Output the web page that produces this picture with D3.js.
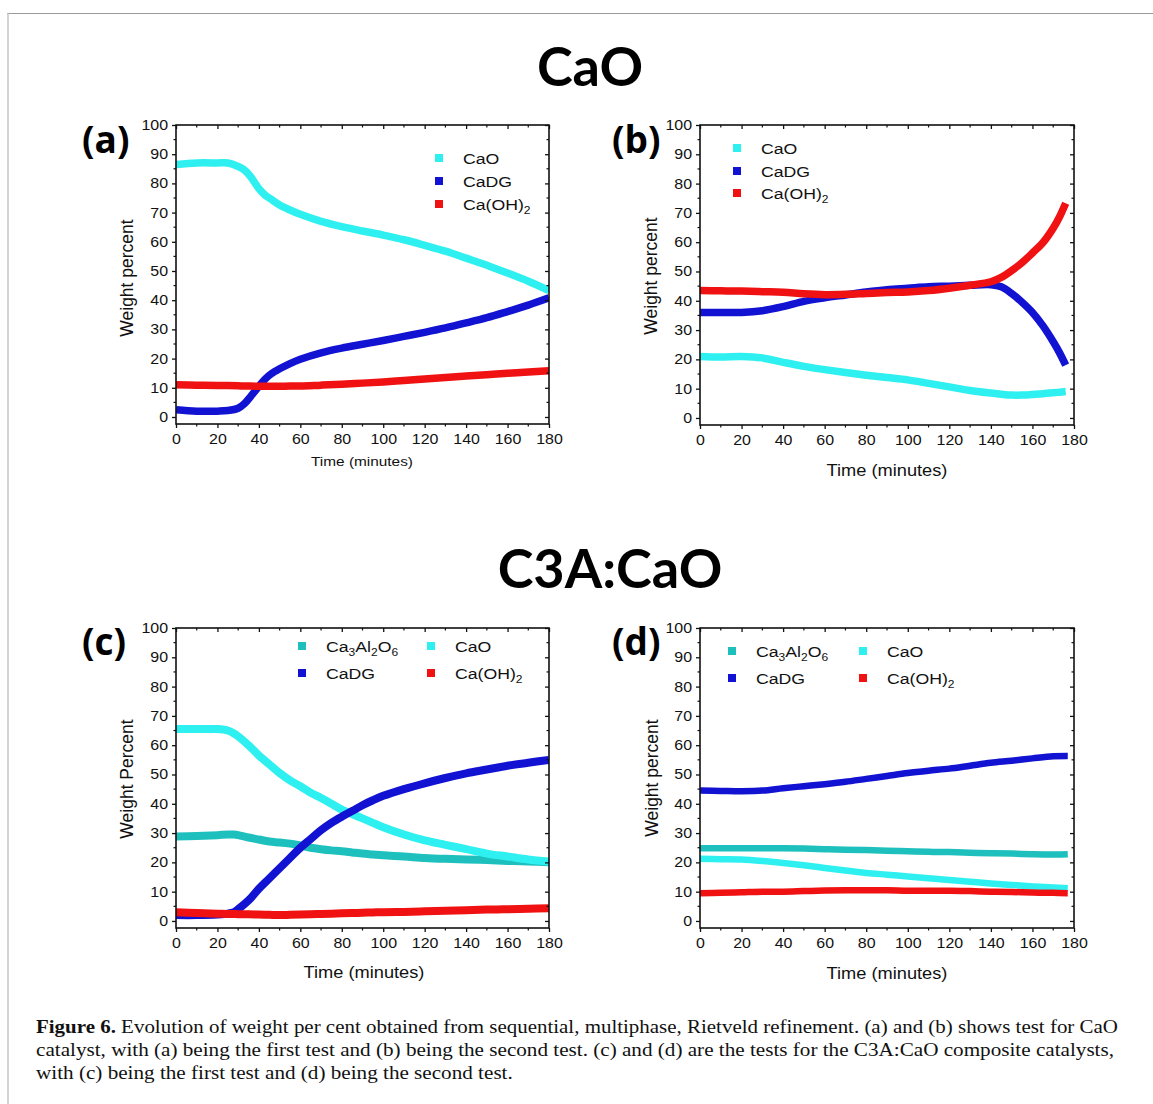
<!DOCTYPE html>
<html><head><meta charset="utf-8">
<script src="https://cdn.jsdelivr.net/npm/d3@7"></script>
<style>body{margin:0;background:#fff}</style></head>
<body>
<svg id="chart" width="1153" height="1104"></svg>
<script>
// ---------- DATA ----------
const xTicks = [0,20,40,60,80,100,120,140,160,180];
const yTicks = [0,10,20,30,40,50,60,70,80,90,100];

// Panel (a) – CaO, first test
const aTime  = [0,10,20,25,30,33,36,40,43,46,50,55,60,70,80,90,100,110,120,130,140,150,160,170,180];
const aCaO   = [86.5,87,87,87,85.8,84.6,82.3,78.2,76,74.5,72.6,70.9,69.4,67,65.2,63.7,62.3,60.7,58.8,56.8,54.4,52,49.3,46.5,43.3];
const aCaDG  = [2.5,2,2,2.2,3,4.5,7,10.5,13,14.8,16.5,18.3,19.8,22,23.6,24.9,26.2,27.6,29,30.5,32.2,34,36.1,38.3,40.8];
const aCaOH2 = [11,10.9,10.8,10.8,10.7,10.6,10.6,10.5,10.5,10.5,10.5,10.6,10.6,10.9,11.2,11.6,12,12.5,13,13.5,14,14.5,15,15.4,15.8];

// Panel (b) – CaO, second test
const bTime  = [0,10,20,30,40,50,60,70,80,90,100,110,120,130,140,145,150,155,160,165,170,173,176];
const bCaO   = [21,20.8,21,20.5,19,17.6,16.5,15.5,14.6,13.8,13,11.8,10.6,9.4,8.5,8.1,7.8,7.8,8,8.3,8.6,8.8,9];
const bCaDG  = [36,36,36,36.6,38,39.8,41,42,43,43.8,44.3,44.8,45,45.3,45.5,44.8,42.5,39.5,36,31.5,26,22.3,18];
const bCaOH2 = [43.5,43.4,43.3,43.1,42.9,42.4,42.1,42.2,42.5,42.8,43,43.5,44.3,45.3,46.5,48,50.3,53,56.3,59.8,64.8,68.6,73.3];

// Panel (c) – C3A:CaO, first test
const cTime  = [0,10,20,25,28,30,35,40,45,50,55,60,65,70,75,80,85,90,95,100,110,120,130,140,150,160,170,180];
const cC3A   = [28.8,29,29.3,29.5,29.5,29.3,28.5,27.8,27.1,26.8,26.4,25.8,25,24.5,24.1,23.8,23.4,23,22.7,22.4,22,21.5,21.2,21,20.8,20.5,20.3,20];
const cCaO   = [65.5,65.5,65.5,65,64,63,60,56.5,53.5,50.5,48,46,43.8,42,40,38,36.5,35,33.5,32,29.5,27.5,26,24.5,23,22,21,20.3];
const cCaDG  = [2,2,2.2,2.5,3,4,7,11,14.5,18,21.5,25,28,31,33.5,35.6,37.5,39.5,41.2,42.7,45,47,48.8,50.4,51.7,53,54,55];
const cCaOH2 = [3,2.7,2.5,2.4,2.4,2.3,2.3,2.2,2.1,2,2.1,2.2,2.3,2.4,2.5,2.6,2.7,2.8,2.9,3,3.1,3.3,3.5,3.7,3.9,4,4.2,4.3];

// Panel (d) – C3A:CaO, second test
const dTime  = [0,10,20,30,40,50,60,70,80,90,100,110,120,130,140,150,160,170,177];
const dC3A   = [24.8,24.8,24.8,24.8,24.8,24.7,24.5,24.3,24.2,24,23.8,23.6,23.5,23.3,23.1,23,22.8,22.7,22.8];
const dCaO   = [21.2,21.1,21,20.5,19.8,19,18.1,17.2,16.4,15.8,15.2,14.6,14,13.4,12.8,12.3,11.8,11.4,11.2];
const dCaDG  = [44.5,44.4,44.3,44.5,45.3,46,46.7,47.5,48.5,49.5,50.5,51.3,52,53,54,54.7,55.5,56.2,56.3];
const dCaOH2 = [9.5,9.6,9.8,10,10,10.2,10.4,10.5,10.5,10.5,10.3,10.3,10.3,10.2,10,9.9,9.7,9.6,9.5];

const seriesNames = ["CaO","CaDG","Ca(OH)2","Ca3Al2O6"];
const groupTitles = ["CaO","C3A:CaO"];
const panelLabels = ["(a)","(b)","(c)","(d)"];
const caption = [
  ["Figure 6.", " Evolution of weight per cent obtained from sequential, multiphase, Rietveld refinement. (a) and (b) shows test for CaO"],
  ["", "catalyst, with (a) being the first test and (b) being the second test. (c) and (d) are the tests for the C3A:CaO composite catalysts,"],
  ["", "with (c) being the first test and (d) being the second test."]
];

// ---------- STYLE ----------
const COL = {"CaO":"#2ff0f0","CaDG":"#1212d2","Ca(OH)2":"#f01212","Ca3Al2O6":"#1ec0bd"};
const SANS = "'Liberation Sans', Arial, sans-serif";
const SX = 1.14; // horizontal stretch of the original bitmap text

const svg = d3.select("#chart");
svg.append("rect").attr("width",1153).attr("height",1104).attr("fill","#fff");
svg.append("line").attr("x1",7).attr("x2",1153).attr("y1",13.5).attr("y2",13.5).attr("stroke","#9a9a9a").attr("stroke-width",1.2);
svg.append("line").attr("x1",8).attr("x2",8).attr("y1",13).attr("y2",1104).attr("stroke","#c4c4c4").attr("stroke-width",1.5);

// group titles
svg.append("text").attr("x",590).attr("y",86).attr("text-anchor","middle")
  .attr("font-family","Lato, 'Open Sans', sans-serif").attr("font-weight",700).attr("font-size",54)
  .attr("fill","#000").text(groupTitles[0]);
svg.append("text").attr("x",610).attr("y",588).attr("text-anchor","middle")
  .attr("font-family","Lato, 'Open Sans', sans-serif").attr("font-weight",700).attr("font-size",54)
  .attr("fill","#000").text(groupTitles[1]);

function stretchedText(g, x, y, size, anchor){
  return g.append("text").attr("transform",`translate(${x},${y}) scale(${SX},1)`)
    .attr("font-family",SANS).attr("font-size",size).attr("text-anchor",anchor||"start").attr("fill","#111");
}
function writeName(t, name){
  const sub = (s)=>t.append("tspan").attr("dy",4).attr("font-size","0.68em").text(s);
  const up  = (s)=>t.append("tspan").attr("dy",-4).text(s);
  if(name==="Ca(OH)2"){ t.append("tspan").text("Ca(OH)"); sub("2"); }
  else if(name==="Ca3Al2O6"){ t.append("tspan").text("Ca"); sub("3"); up("Al"); sub("2"); up("O"); sub("6"); }
  else t.text(name);
}

function panel(cfg){
  const g = svg.append("g");
  const x = d3.scaleLinear().domain([0,180]).range([cfg.x0,cfg.x1]);
  const y = d3.scaleLinear().domain([-2.4,100]).range([cfg.y1,cfg.y0]);
  const id = "clip"+cfg.label.replace(/\W/g,"");
  svg.append("clipPath").attr("id",id).append("rect")
    .attr("x",cfg.x0).attr("y",cfg.y0).attr("width",cfg.x1-cfg.x0).attr("height",cfg.y1-cfg.y0);

  // data
  const line = d3.line().curve(d3.curveCatmullRom.alpha(0.5));
  const dg = g.append("g").attr("clip-path",`url(#${id})`);
  cfg.series.forEach(s=>{
    const pts = s.t.map((tt,i)=>[x(tt),y(s.v[i])]);
    dg.append("path").attr("d",line(pts)).attr("fill","none")
      .attr("stroke",COL[s.name]).attr("stroke-width",cfg.sw||7).attr("stroke-linejoin","round");
  });

  // axes
  const ax = g.append("g").attr("transform",`translate(0,${cfg.y1})`)
    .call(d3.axisBottom(x).tickValues(xTicks).tickSize(4).tickPadding(6).tickFormat(d3.format("d")));
  const ay = g.append("g").attr("transform",`translate(${cfg.x0},0)`)
    .call(d3.axisLeft(y).tickValues(yTicks).tickSize(4).tickPadding(3).tickFormat(d3.format("d")));
  [ax,ay].forEach(a=>{
    a.select(".domain").remove();
    a.selectAll("line").attr("stroke","#111").attr("stroke-width",1.3);
    a.selectAll("text").attr("font-family",SANS).attr("font-size",14).attr("fill","#111")
      .attr("transform",`scale(${SX},1)`);
  });
  const at = g.append("g").attr("transform",`translate(0,${cfg.y0})`)
    .call(d3.axisBottom(x).tickValues(xTicks).tickSize(4).tickFormat(""));
  const ar = g.append("g").attr("transform",`translate(${cfg.x1},0)`)
    .call(d3.axisRight(y).tickValues(yTicks).tickSize(-4).tickFormat(""));
  [at,ar].forEach(a=>{ a.select(".domain").remove(); a.selectAll("line").attr("stroke","#111").attr("stroke-width",1.3); });
  // minor ticks
  const minorX = d3.range(10,180,20), minorY = d3.range(5,100,10);
  minorX.forEach(v=>{
    g.append("line").attr("x1",x(v)).attr("x2",x(v)).attr("y1",cfg.y1).attr("y2",cfg.y1+2.5).attr("stroke","#111").attr("stroke-width",1.2);
    g.append("line").attr("x1",x(v)).attr("x2",x(v)).attr("y1",cfg.y0).attr("y2",cfg.y0+2.5).attr("stroke","#111").attr("stroke-width",1.2);
  });
  minorY.forEach(v=>{
    g.append("line").attr("x1",cfg.x0).attr("x2",cfg.x0-2.5).attr("y1",y(v)).attr("y2",y(v)).attr("stroke","#111").attr("stroke-width",1.2);
    g.append("line").attr("x1",cfg.x1).attr("x2",cfg.x1-2.5).attr("y1",y(v)).attr("y2",y(v)).attr("stroke","#111").attr("stroke-width",1.2);
  });
  // frame
  g.append("rect").attr("x",cfg.x0).attr("y",cfg.y0).attr("width",cfg.x1-cfg.x0).attr("height",cfg.y1-cfg.y0)
    .attr("fill","none").attr("stroke","#111").attr("stroke-width",1.6);

  // axis titles
  g.append("text").attr("transform",`translate(${cfg.ytx},${cfg.yty}) rotate(-90)`)
    .attr("text-anchor","middle").attr("dy","0.35em").attr("font-family",SANS).attr("font-size",17.5)
    .attr("fill","#111").text(cfg.yTitle);
  stretchedText(g, cfg.xtx, cfg.xty, cfg.xts, "middle").text("Time (minutes)");

  // panel label
  g.append("text").attr("x",cfg.lx).attr("y",cfg.ly).attr("font-family","'Open Sans', sans-serif")
    .attr("font-weight",700).attr("font-size",37).attr("fill","#000").text(cfg.label);

  // legend
  cfg.legend.forEach(l=>{
    g.append("rect").attr("x",l.mx-4).attr("y",l.y-4).attr("width",8).attr("height",8).attr("fill",COL[l.name]);
    const t = stretchedText(g, l.tx, l.y+5.5, 15.5, "start");
    writeName(t, l.name);
  });
}

panel({label:panelLabels[0], x0:176, x1:549, y0:125, y1:424, lx:82, ly:153, sw:7.5,
  ytx:127, yty:278, yTitle:"Weight percent", xtx:362, xty:466, xts:13.5,
  series:[{name:"CaO",t:aTime,v:aCaO},{name:"CaDG",t:aTime,v:aCaDG},{name:"Ca(OH)2",t:aTime,v:aCaOH2}],
  legend:[{name:"CaO",mx:439,tx:463,y:158},{name:"CaDG",mx:439,tx:463,y:181},{name:"Ca(OH)2",mx:439,tx:463,y:204}]});

panel({label:panelLabels[1], x0:700, x1:1074, y0:125, y1:425, lx:612, ly:153, sw:7.5,
  ytx:651, yty:276, yTitle:"Weight percent", xtx:887, xty:476, xts:16,
  series:[{name:"CaO",t:bTime,v:bCaO},{name:"CaDG",t:bTime,v:bCaDG},{name:"Ca(OH)2",t:bTime,v:bCaOH2}],
  legend:[{name:"CaO",mx:737,tx:761,y:148},{name:"CaDG",mx:737,tx:761,y:171},{name:"Ca(OH)2",mx:737,tx:761,y:193}]});

panel({label:panelLabels[2], x0:176, x1:549, y0:628, y1:928, lx:82, ly:655, sw:8,
  ytx:127, yty:779, yTitle:"Weight Percent", xtx:364, xty:978, xts:16,
  series:[{name:"Ca3Al2O6",t:cTime,v:cC3A},{name:"CaO",t:cTime,v:cCaO},{name:"CaDG",t:cTime,v:cCaDG},{name:"Ca(OH)2",t:cTime,v:cCaOH2}],
  legend:[{name:"Ca3Al2O6",mx:302,tx:326,y:646},{name:"CaO",mx:431,tx:455,y:646},
          {name:"CaDG",mx:302,tx:326,y:673},{name:"Ca(OH)2",mx:431,tx:455,y:673}]});

panel({label:panelLabels[3], x0:700, x1:1074, y0:628, y1:928, lx:612, ly:655, sw:6.5,
  ytx:652, yty:778, yTitle:"Weight percent", xtx:887, xty:979, xts:16,
  series:[{name:"Ca3Al2O6",t:dTime,v:dC3A},{name:"CaO",t:dTime,v:dCaO},{name:"CaDG",t:dTime,v:dCaDG},{name:"Ca(OH)2",t:dTime,v:dCaOH2}],
  legend:[{name:"Ca3Al2O6",mx:732,tx:756,y:651},{name:"CaO",mx:863,tx:887,y:651},
          {name:"CaDG",mx:732,tx:756,y:678},{name:"Ca(OH)2",mx:863,tx:887,y:678}]});

// caption: first two lines are fitted to the column width, the last uses the same compression
const capTexts = caption.map((c,i)=>{
  const t = svg.append("text").attr("x",36).attr("y",1033+i*23)
    .attr("font-family","'Liberation Serif', 'Times New Roman', serif").attr("font-size",18).attr("fill","#111");
  if(c[0]) t.append("tspan").attr("font-weight",700).text(c[0]);
  t.append("tspan").text(c[1]);
  return t;
});
const targets = [1082, 1078];
const ratio = targets[1] / capTexts[1].node().getComputedTextLength();
capTexts.forEach((t,i)=>{
  const L = i < 2 ? targets[i] : t.node().getComputedTextLength()*ratio;
  t.attr("textLength",L).attr("lengthAdjust","spacingAndGlyphs");
});
</script>
</body></html>
